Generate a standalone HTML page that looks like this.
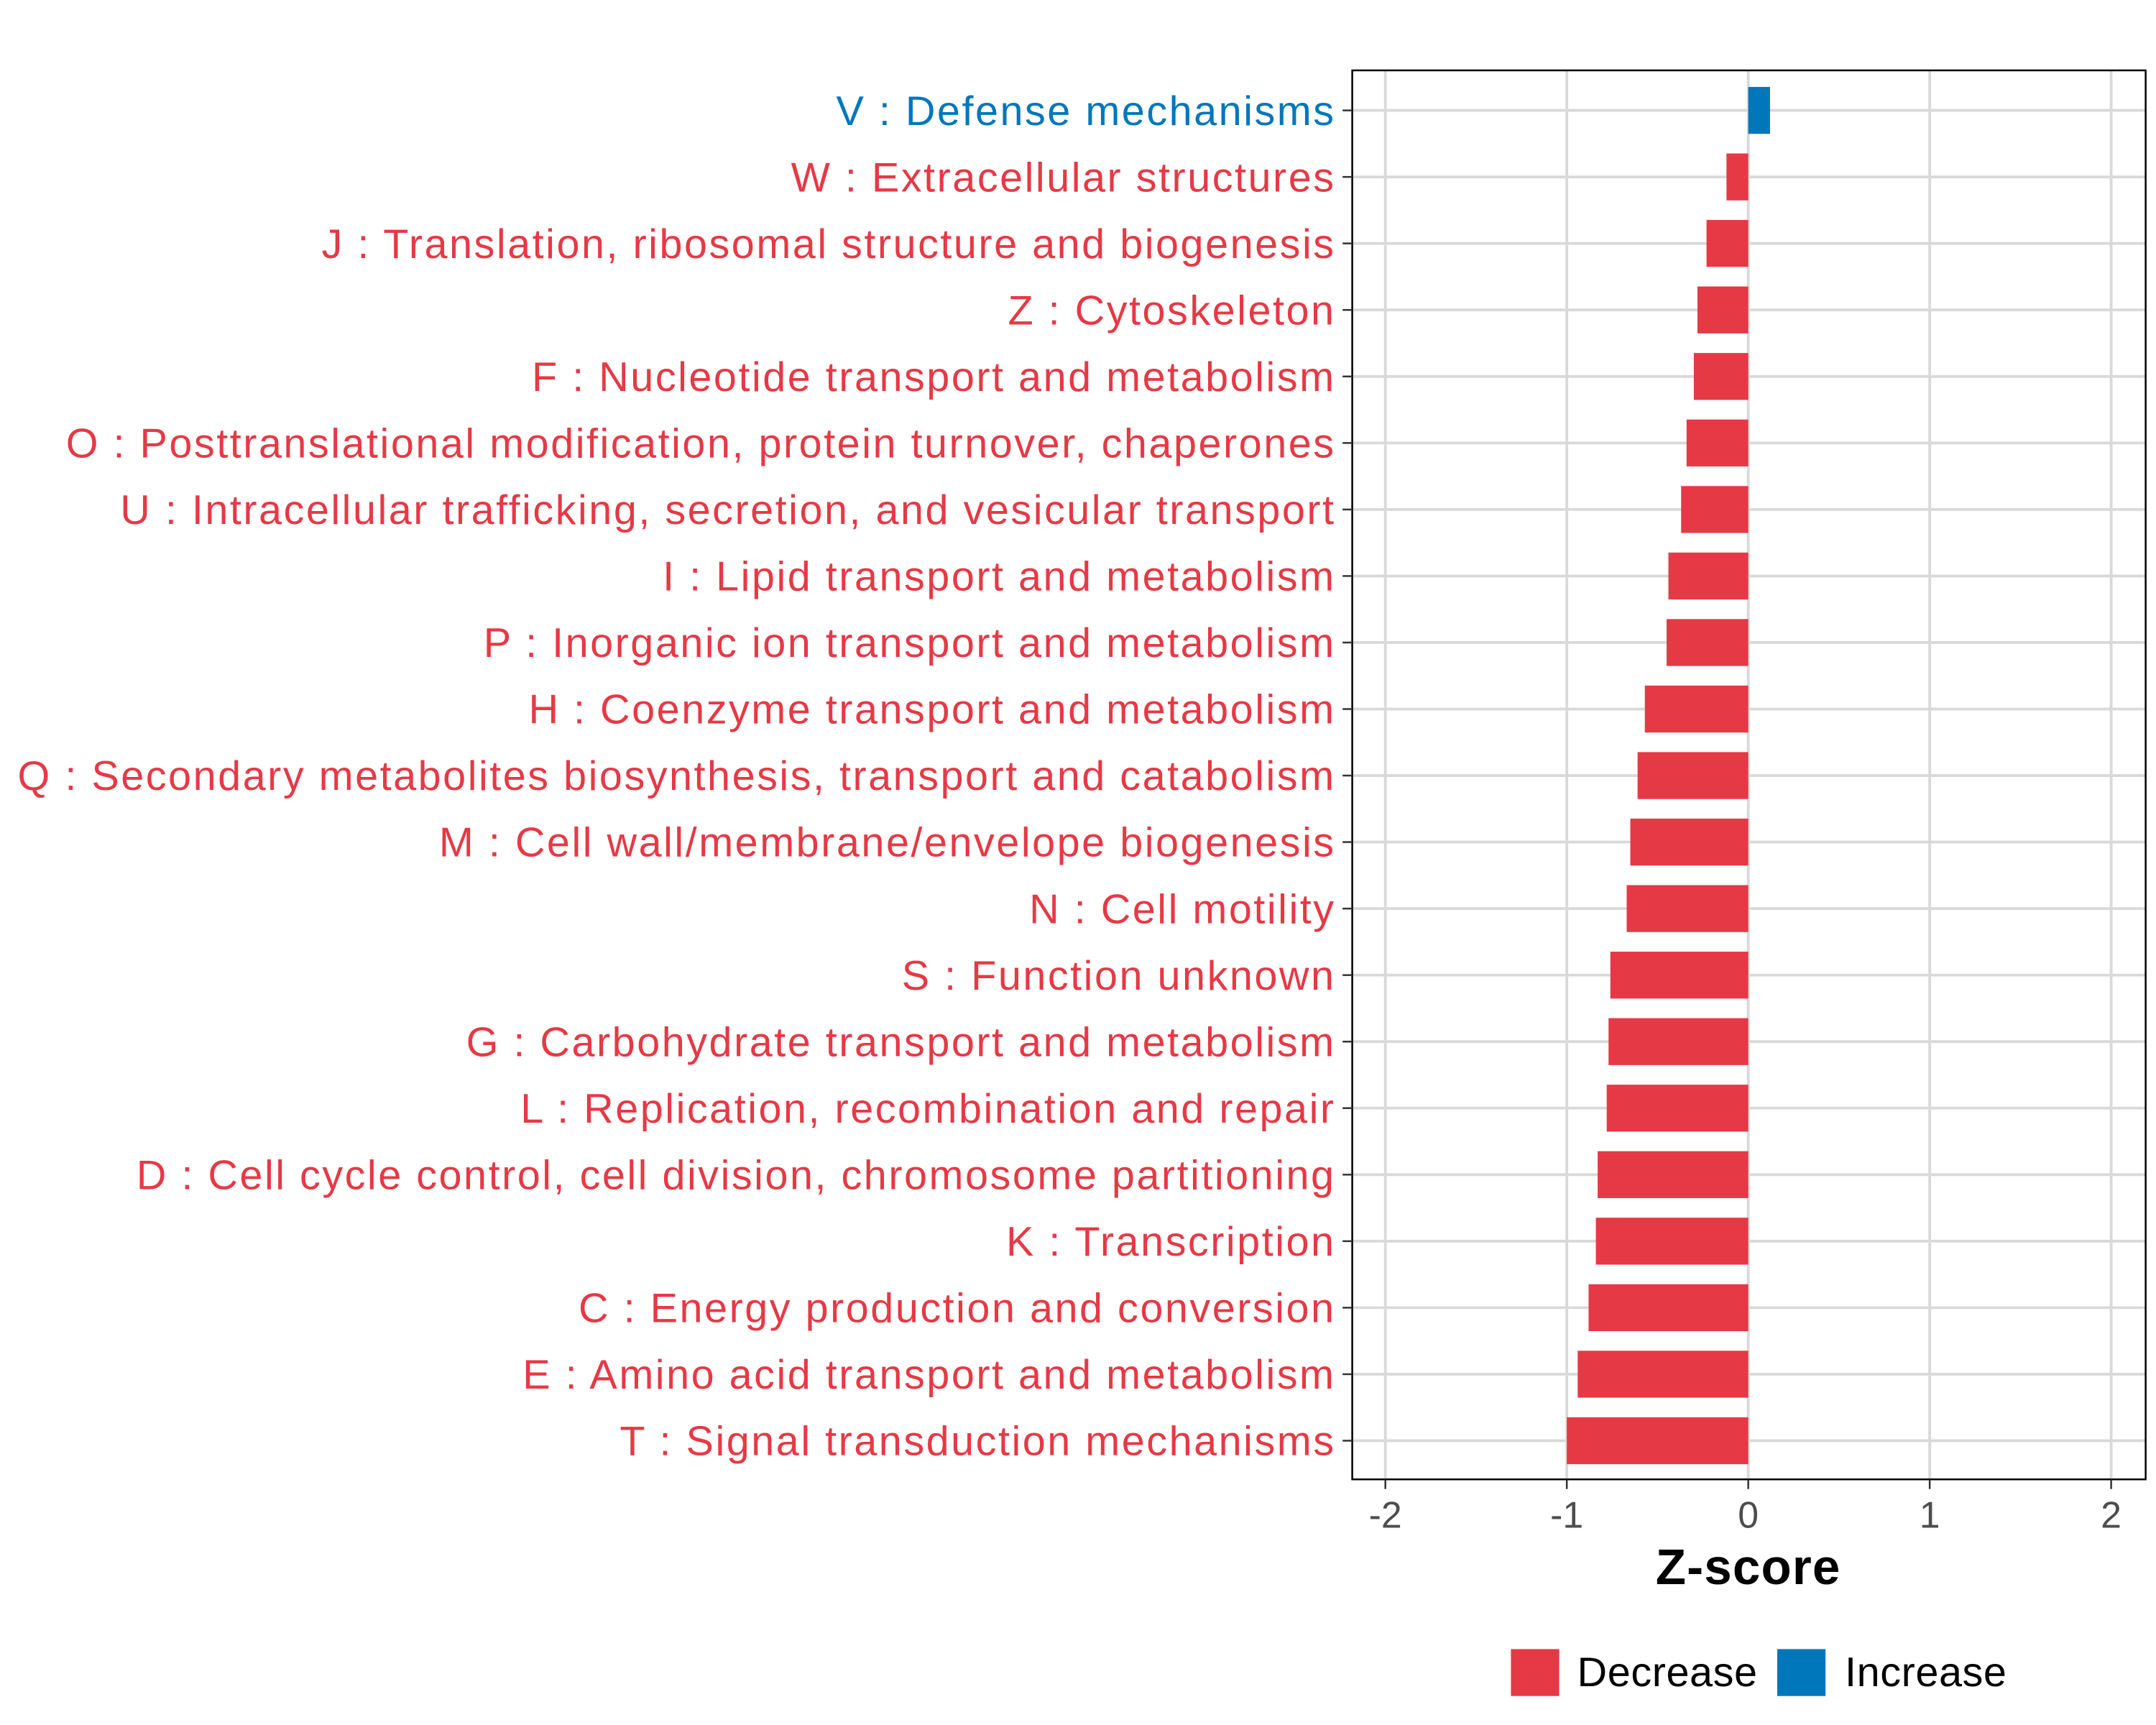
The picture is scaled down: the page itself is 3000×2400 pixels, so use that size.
<!DOCTYPE html>
<html><head><meta charset="utf-8"><style>
html,body{margin:0;padding:0;background:#fff}
svg{display:block}
text{font-family:"Liberation Sans",sans-serif}
</style></head><body>
<svg id="chart" width="3000" height="2400" viewBox="0 0 1562.5 1250" xmlns="http://www.w3.org/2000/svg">
<rect width="1562.5" height="1250" fill="#fff"/>
<g id="grid"></g>
<g id="bars"></g>
<rect x="980" y="51" width="575" height="1021" fill="none" stroke="#000" stroke-width="1.3"/>
<g id="ylabels"></g>
<g id="xaxis"></g>
<text x="1267" y="1148" text-anchor="middle" font-size="36" font-weight="bold" letter-spacing="0.6">Z-score</text>
<g>
<rect x="1095" y="1195" width="35" height="34" fill="#E63946"/>
<text x="1143" y="1222" font-size="30" letter-spacing="0.3">Decrease</text>
<rect x="1288" y="1195" width="35" height="34" fill="#0077BB"/>
<text x="1337" y="1222" font-size="30" letter-spacing="0.3">Increase</text>
</g>
</svg>
<script>
const categories = ["V : Defense mechanisms","W : Extracellular structures","J : Translation, ribosomal structure and biogenesis","Z : Cytoskeleton","F : Nucleotide transport and metabolism","O : Posttranslational modification, protein turnover, chaperones","U : Intracellular trafficking, secretion, and vesicular transport","I : Lipid transport and metabolism","P : Inorganic ion transport and metabolism","H : Coenzyme transport and metabolism","Q : Secondary metabolites biosynthesis, transport and catabolism","M : Cell wall/membrane/envelope biogenesis","N : Cell motility","S : Function unknown","G : Carbohydrate transport and metabolism","L : Replication, recombination and repair","D : Cell cycle control, cell division, chromosome partitioning","K : Transcription","C : Energy production and conversion","E : Amino acid transport and metabolism","T : Signal transduction mechanisms"];
const zscores = [0.12,-0.12,-0.23,-0.28,-0.30,-0.34,-0.37,-0.44,-0.45,-0.57,-0.61,-0.65,-0.67,-0.76,-0.77,-0.78,-0.83,-0.84,-0.88,-0.94,-1.00];
const xTicks = [-2,-1,0,1,2];
const xTickLabels = ["-2","-1","0","1","2"];

const NS="http://www.w3.org/2000/svg";
const x = v => 1267 + v*131.5;
const y = i => 80 + i*(1044-80)/(categories.length-1);
function mk(tag, attrs, parent, txt){const e=document.createElementNS(NS,tag);for(const k in attrs)e.setAttribute(k,attrs[k]);if(txt!==undefined)e.textContent=txt;parent.appendChild(e);return e;}
const grid=document.getElementById('grid'), bars=document.getElementById('bars'), yl=document.getElementById('ylabels'), xa=document.getElementById('xaxis');
xTicks.forEach((t,i)=>{
  const g=mk('line',{x1:x(t),x2:x(t),y1:51,y2:1072,stroke:'#D9D9D9','stroke-width':2},grid);
  
  
  const tk=mk('line',{x1:x(t),x2:x(t),y1:1072,y2:1079,stroke:'#333','stroke-width':1.3},xa);
  
  
  const lb=mk('text',{x:x(t),y:1107,'text-anchor':'middle','font-size':27,fill:'#4D4D4D'},xa,xTickLabels[i]);
  
  
});
categories.forEach((c,i)=>{
  const g=mk('line',{x1:980,x2:1555,y1:y(i),y2:y(i),stroke:'#D9D9D9','stroke-width':2},grid);
  
  
  const v=zscores[i], col=v>=0?'#0077BB':'#E63946';
  const b=mk('rect',{x:Math.min(x(0),x(v)),y:y(i)-17,width:Math.abs(x(v)-x(0)),height:34,fill:col},bars);
  
  
  const tk=mk('line',{x1:973,x2:980,y1:y(i),y2:y(i),stroke:'#333','stroke-width':1.3},yl);
  
  
  const lb=mk('text',{x:968,y:y(i)+10.5,'text-anchor':'end','font-size':30,'letter-spacing':1.3,fill:col},yl,c);
  
  
});
</script>
</body></html>
